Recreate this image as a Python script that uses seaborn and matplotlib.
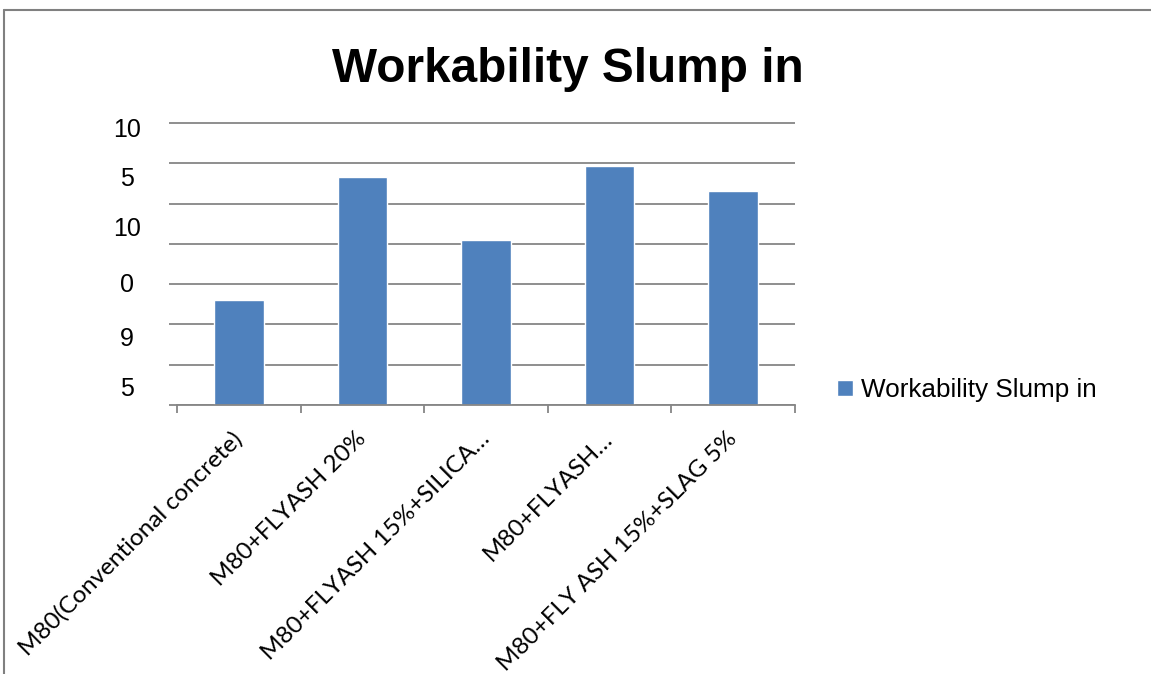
import numpy as np
import pandas as pd
import matplotlib
matplotlib.use("Agg")
import matplotlib.pyplot as plt
import seaborn as sns
from matplotlib.lines import Line2D
from matplotlib.ticker import FixedLocator

# data (in gridline units)
categories = [
    "M80(Conventional concrete)",
    "M80+FLYASH 20%",
    "M80+FLYASH 15%+SILICA\u2026",
    "M80+FLYASH\u2026",
    "M80+FLY ASH 15%+SLAG 5%",
]
slump = [2.61, 5.66, 4.10, 5.93, 5.31]
series_name = "Workability Slump in"

# the y labels of the source chart are garbled, kept as they appear
ytick_pos = [6.90, 5.68, 4.42, 3.03, 1.71, 0.45]
ytick_labels = ["10", "5", "10", "0", "9", "5"]

sns.set_theme(style="white")
plt.rcParams['font.family'] = ['Liberation Sans', 'DejaVu Sans']
plt.rcParams['text.color'] = 'black'
plt.rcParams['xtick.color'] = 'black'
plt.rcParams['ytick.color'] = 'black'

W, H = 1151, 674
fig = plt.figure(figsize=(W / 100, H / 100), dpi=100)
# top edge a bit above the last gridline so it isn't clipped
ax = fig.add_axes([177 / W, 1 - 405 / H, (795 - 177) / W, (405 - 121) / H])

df = pd.DataFrame({"cat": categories, "val": slump})
sns.barplot(data=df, x="cat", y="val", color="#4F81BD", saturation=1,
            width=0.4, label=series_name, ax=ax)

grid_col = "#868686"
ax.set_xlim(-0.5, len(categories) - 0.5)
ax.set_ylim(0, 7.05)
ax.set_xlabel("")
ax.set_ylabel("")

# gridlines + outward tick marks
ax.yaxis.set_minor_locator(FixedLocator(np.arange(0, 8)))
ax.grid(which="minor", axis="y", color=grid_col, linewidth=1.3)
ax.set_axisbelow(True)
ax.tick_params(axis="y", which="minor", left=True, length=6, width=1.3, color=grid_col)

ax.set_yticks(ytick_pos)
ax.set_yticklabels(ytick_labels, fontsize=18, ha="center")
ax.tick_params(axis="y", which="major", length=0, pad=36)

ax.xaxis.set_minor_locator(FixedLocator(np.arange(-0.5, len(categories), 1.0)))
ax.tick_params(axis="x", which="minor", bottom=True, length=6, width=1.3, color=grid_col)
ax.tick_params(axis="x", which="major", length=0, pad=22)
ax.set_xticks(range(len(categories)))
ax.set_xticklabels(categories, rotation=45, ha="right", va="center",
                   rotation_mode="anchor", fontsize=17.5, family=["Lato", "DejaVu Sans"])

for s in ["top", "right", "left"]:
    ax.spines[s].set_visible(False)
ax.spines["bottom"].set_color(grid_col)
ax.spines["bottom"].set_linewidth(1.3)

fig.text(568 / W, 1 - 81.7 / H, "Workability Slump in", ha="center", va="baseline",
         fontsize=34.4, fontweight="bold")

ax.legend(loc="center left", bbox_to_anchor=(837 / W, 1 - 390 / H),
          bbox_transform=fig.transFigure, frameon=False, fontsize=18.8,
          handlelength=0.6, handleheight=0.6, handletextpad=0.3,
          borderpad=0, borderaxespad=0)

# outer chart border (top and left edges visible)
fig.add_artist(Line2D([3.5 / W, 1], [1 - 9.5 / H, 1 - 9.5 / H], color="#808080", linewidth=1.5,
                      transform=fig.transFigure))
fig.add_artist(Line2D([3.5 / W, 3.5 / W], [0, 1 - 9.5 / H], color="#808080", linewidth=1.5,
                      transform=fig.transFigure))

fig.savefig("out.png", dpi=100, facecolor="white")
